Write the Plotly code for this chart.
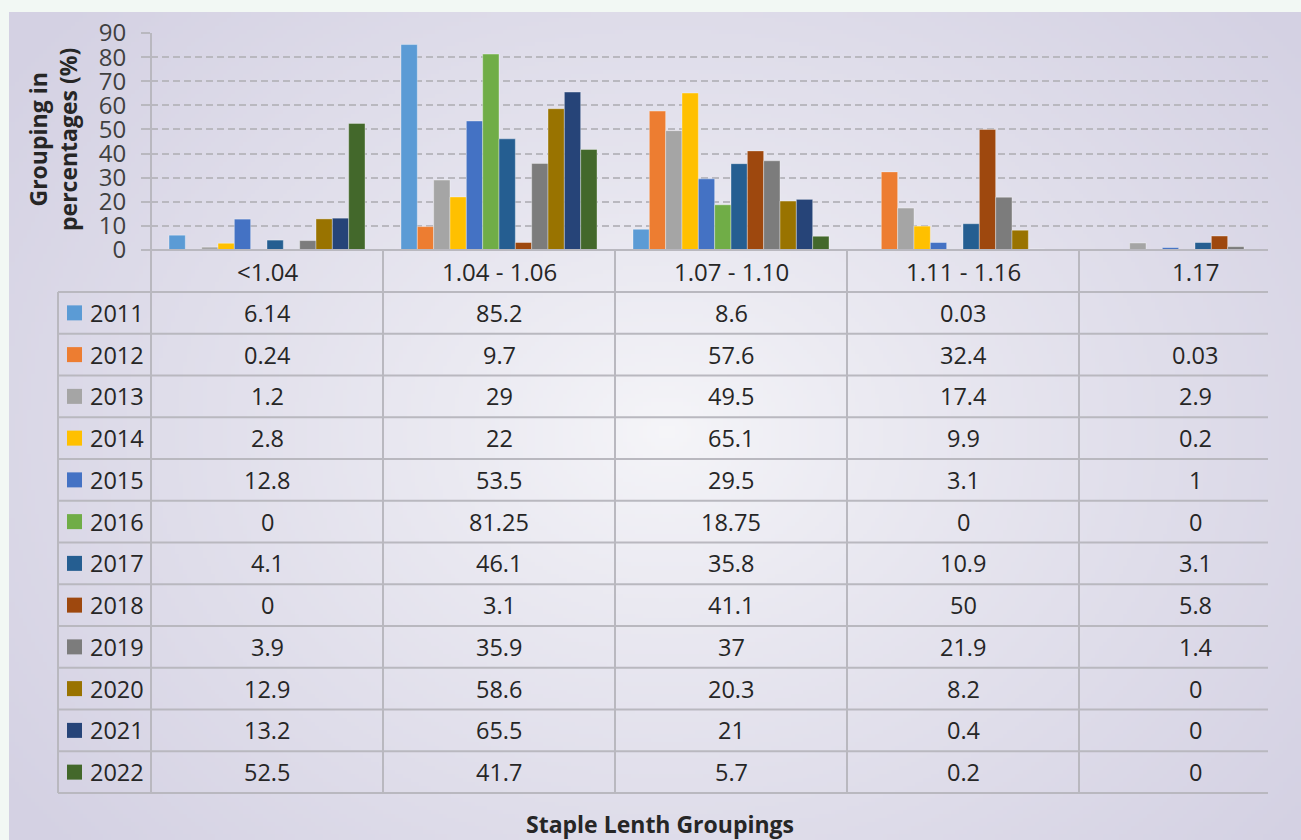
import base64
import struct
import zlib

import numpy as np
import plotly.graph_objects as go

# ---- data ---------------------------------------------------------------
categories = ["<1.04", "1.04 - 1.06", "1.07 - 1.10", "1.11 - 1.16", "1.17"]
years = ["2011", "2012", "2013", "2014", "2015", "2016",
         "2017", "2018", "2019", "2020", "2021", "2022"]

s2011 = [6.14, 85.2, 8.6, 0.03, None]
s2012 = [0.24, 9.7, 57.6, 32.4, 0.03]
s2013 = [1.2, 29, 49.5, 17.4, 2.9]
s2014 = [2.8, 22, 65.1, 9.9, 0.2]
s2015 = [12.8, 53.5, 29.5, 3.1, 1]
s2016 = [0, 81.25, 18.75, 0, 0]
s2017 = [4.1, 46.1, 35.8, 10.9, 3.1]
s2018 = [0, 3.1, 41.1, 50, 5.8]
s2019 = [3.9, 35.9, 37, 21.9, 1.4]
s2020 = [12.9, 58.6, 20.3, 8.2, 0]
s2021 = [13.2, 65.5, 21, 0.4, 0]
s2022 = [52.5, 41.7, 5.7, 0.2, 0]
series = [s2011, s2012, s2013, s2014, s2015, s2016,
          s2017, s2018, s2019, s2020, s2021, s2022]

colors = ["#5B9BD5", "#ED7D31", "#A5A5A5", "#FFC000", "#4472C4", "#70AD47",
          "#255E91", "#9E480E", "#7C7C7C", "#997300", "#264478", "#43682B"]

y_ticks = [0, 10, 20, 30, 40, 50, 60, 70, 80, 90]

# ---- page geometry (pixels) ---------------------------------------------
W, H = 1301, 840
PL, PR, PT, PB = 151, 1268, 33, 250          # plot area edges
PW, PH = PR - PL, PB - PT
COL_W = 232.0                                 # width of one category column
HEADER_BOTTOM = 292
ROW_H = 41.75
TABLE_LEFT = 58

FONT = "Open Sans"
TXT = "#262626"
LINE = "#b9b8bf"


def px(x):
    return (x - PL) / PW


def py(y):
    return (PB - y) / PH


# ---- soft radial background for the chart panel -------------------------
def panel_png(w, h, cx, cy, rx, ry):
    yy, xx = np.mgrid[0:h, 0:w].astype(float)
    t = np.sqrt(((xx - cx) / rx) ** 2 + ((yy - cy) / ry) ** 2)
    t = np.clip(t, 0, 1) ** 0.85
    inner = np.array([246, 246, 249], float)
    outer = np.array([212, 209, 227], float)
    img = inner[None, None, :] * (1 - t[..., None]) + outer[None, None, :] * t[..., None]
    img = img.astype(np.uint8)
    raw = b"".join(b"\x00" + img[r].tobytes() for r in range(h))

    def chunk(tag, data):
        return (struct.pack(">I", len(data)) + tag + data
                + struct.pack(">I", zlib.crc32(tag + data) & 0xFFFFFFFF))

    png = (b"\x89PNG\r\n\x1a\n"
           + chunk(b"IHDR", struct.pack(">IIBBBBB", w, h, 8, 2, 0, 0, 0))
           + chunk(b"IDAT", zlib.compress(raw, 9))
           + chunk(b"IEND", b""))
    return "data:image/png;base64," + base64.b64encode(png).decode()


SCALE = 4
panel_x0, panel_y0 = 9, 12
pw_img = (W - panel_x0) // SCALE
ph_img = (H - panel_y0) // SCALE
bg_src = panel_png(pw_img, ph_img,
                   (665 - panel_x0) / SCALE, (430 - panel_y0) / SCALE,
                   820 / SCALE, 640 / SCALE)

# ---- bars ---------------------------------------------------------------
fig = go.Figure()
xs = list(range(len(categories)))
for name, vals, col in zip(years, series, colors):
    fig.add_trace(go.Bar(
        x=xs, y=vals, name=name,
        marker=dict(color=col, line=dict(color="rgba(255,255,255,0.35)", width=1)),
        showlegend=False,
    ))

# ---- table lines --------------------------------------------------------
shapes = []


def hline(y, x0, x1):
    shapes.append(dict(type="line", xref="paper", yref="paper",
                       x0=px(x0), x1=px(x1), y0=py(y), y1=py(y),
                       line=dict(color=LINE, width=2), layer="above"))


def vline(x, y0, y1):
    shapes.append(dict(type="line", xref="paper", yref="paper",
                       x0=px(x), x1=px(x), y0=py(y0), y1=py(y1),
                       line=dict(color=LINE, width=2), layer="above"))


table_bottom = HEADER_BOTTOM + ROW_H * len(years)
hline(PB, PL - 9, PR)                       # category axis
for k in range(len(years) + 1):
    hline(HEADER_BOTTOM + ROW_H * k, TABLE_LEFT, PR)
vline(PL, PT, table_bottom)                 # value axis continues into table
vline(TABLE_LEFT, HEADER_BOTTOM, table_bottom)
for c in range(1, len(categories)):
    vline(PL + COL_W * c, PB, table_bottom)

# legend keys in the table
annotations = []
for k, (name, col) in enumerate(zip(years, colors)):
    yc = HEADER_BOTTOM + ROW_H * (k + 0.5)
    shapes.append(dict(type="rect", xref="paper", yref="paper",
                       x0=px(67), x1=px(82), y0=py(yc - 7.5), y1=py(yc + 7.5),
                       fillcolor=col, line=dict(width=0), layer="above"))
    annotations.append(dict(xref="paper", yref="paper", x=px(88), y=py(yc),
                            text=name, showarrow=False, xanchor="left",
                            yanchor="middle", font=dict(size=23.5, color=TXT, family=FONT)))

# category header labels
for c, cat in enumerate(categories):
    annotations.append(dict(xref="x", yref="paper", x=c, y=py((PB + HEADER_BOTTOM) / 2),
                            text=cat.replace("<", "&lt;"), showarrow=False,
                            xanchor="center", yanchor="middle",
                            font=dict(size=24, color=TXT, family=FONT)))

# table values
for k, vals in enumerate(series):
    yc = HEADER_BOTTOM + ROW_H * (k + 0.5)
    for c, v in enumerate(vals):
        if v is None:
            continue
        annotations.append(dict(xref="x", yref="paper", x=c, y=py(yc),
                                text=f"{v:g}", showarrow=False,
                                xanchor="center", yanchor="middle",
                                font=dict(size=23.5, color=TXT, family=FONT)))

# axis titles
annotations.append(dict(xref="paper", yref="paper", x=px(53), y=py(140),
                        text="<b>Grouping in<br>percentages (%)</b>", textangle=-90,
                        showarrow=False, xanchor="center", yanchor="middle",
                        font=dict(size=23, color=TXT, family=FONT)))
annotations.append(dict(xref="paper", yref="paper", x=px(660), y=py(824),
                        text="<b>Staple Lenth Groupings</b>", showarrow=False,
                        xanchor="center", yanchor="middle",
                        font=dict(size=23, color=TXT, family=FONT)))

x_right = -0.5 + PW / COL_W

fig.update_layout(
    width=W, height=H,
    margin=dict(l=PL, r=W - PR, t=PT, b=H - PB, pad=0),
    paper_bgcolor="#f2f8f4",
    plot_bgcolor="rgba(0,0,0,0)",
    barmode="group",
    bargap=0.155,
    bargroupgap=0,
    font=dict(family=FONT, color=TXT),
    xaxis=dict(range=[-0.5, x_right], showticklabels=False, showgrid=False,
               zeroline=False, showline=False, ticks=""),
    yaxis=dict(range=[0, 90], tickvals=y_ticks, showgrid=True,
               gridcolor=LINE, gridwidth=2, griddash="7px,4px",
               zeroline=False, showline=False,
               ticks="outside", ticklen=9, tickwidth=2, tickcolor=LINE,
               ticklabelstandoff=10,
               tickfont=dict(size=24, color="#404040", family=FONT)),
    shapes=shapes,
    annotations=annotations,
    images=[dict(source=bg_src, xref="paper", yref="paper",
                 x=px(panel_x0), y=py(panel_y0),
                 sizex=(W - panel_x0) / PW, sizey=(H - panel_y0) / PH,
                 xanchor="left", yanchor="top", sizing="stretch", layer="below")],
)

fig.write_html("out.html")
